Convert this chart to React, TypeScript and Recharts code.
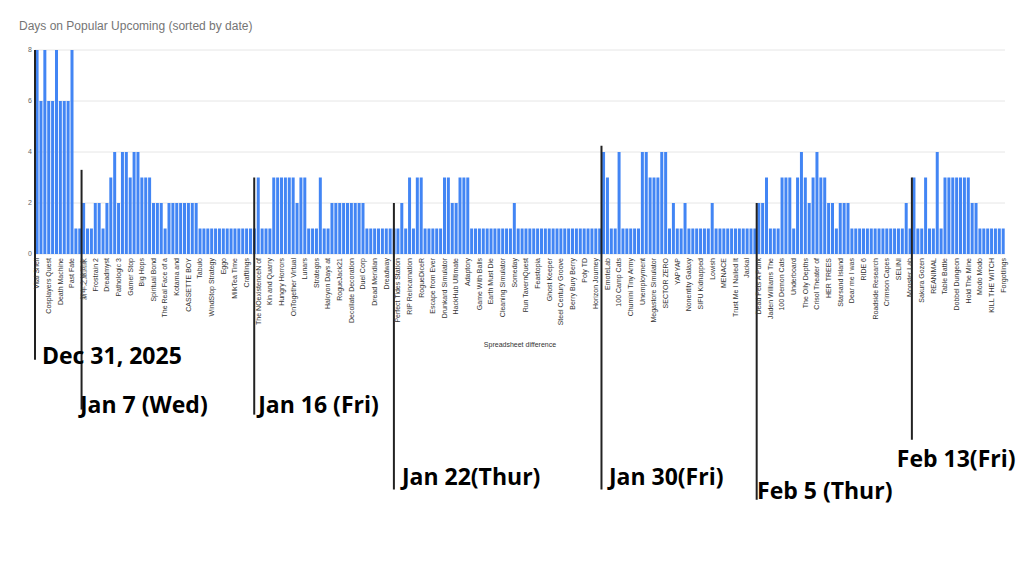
import React from 'react';
import {
  BarChart,
  Bar,
  XAxis,
  YAxis,
  CartesianGrid,
  ReferenceLine,
  ReferenceDot,
  Label,
} from 'recharts';

const titleText = 'Days on Popular Upcoming (sorted by date)';
const axisTitle = 'Spreadsheet difference';

// Visible category labels (one every third bar, as in the reference)
const labels = [
  'Vital Shell', 'Cosplayers Quest', 'Death Machine', 'Past Fate', '新年之旅回家',
  'Frostrain 2', 'Dreadmyst', 'Pathologic 3', 'Gamer Stop', 'Big Hops',
  'Spiritual Bond', 'The Real Face of a', 'Kotama and', 'CASSETTE BOY', 'Tabulo',
  'WindStop Strategy', 'Eggo', 'MilkTea Time', 'Craftlings', 'The NOexistenceN of',
  'Kin and Quarry', 'Hungry Horrors', 'OnTogether Virtual', 'Lunars', 'Strategos',
  'Halcyon Days at', 'RogueJack21', 'Decollate Decoration', 'Duel Corp', 'Dread Meridian',
  'Dreadway', 'Perfect Tides Station', 'RIP Reincarnation', 'RogueDiceR', 'Escape from Ever',
  'Drunkard Simulator', 'HackHub  Ultimate', 'Adaptory', 'Game With Balls', 'Earth Must Die',
  'Cleaning Simulator', 'Someday', 'Run TavernQuest', 'Feastopia', 'Ghost Keeper',
  'Steel Century Groove', 'Berry Bury Berry', 'Poly TD', 'Horizon Journey', 'EmoteLab',
  '100 Camp Cats', 'Chumini Tiny Army', 'Unemployment', 'Megastore Simulator', 'SECTOR ZERO',
  'YAPYAP', 'Nonentity Galaxy', 'SIFU Kidnapped', 'Lowish', 'MENACE',
  'Trust Me I Nailed It', 'Jackal', 'Dead Pets A Punk', 'Jaden Williams The', '100 Demon Cats',
  'Underboard', 'The Oily Depths', 'Crisol Theater of', 'HER TREES', 'Starsand Island',
  'Dear me I was', 'RIDE 6', 'Roadside Research', 'Crimson Capes', 'SELINI',
  'Monster Lab', 'Sakura Gozen', 'REANIMAL', 'Table Battle', 'Dobbel Dungeon',
  'Hold The Mine', 'Modo Modo', 'KILL THE WITCH', 'Forgotlings',
];

// Days on Popular Upcoming, one value per game (250 games)
const days = [
  8, 6, 8, 6, 6, 8, 6, 6, 6, 8,
  1, 1, 2, 1, 1, 2, 2, 1, 2, 3,
  4, 2, 4, 4, 3, 4, 4, 3, 3, 3,
  2, 2, 2, 1, 2, 2, 2, 2, 2, 2,
  2, 2, 1, 1, 1, 1, 1, 1, 1, 1,
  1, 1, 1, 1, 1, 1, 1, 3, 1, 1,
  1, 3, 3, 3, 3, 3, 3, 2, 3, 3,
  1, 1, 1, 3, 1, 1, 2, 2, 2, 2,
  2, 2, 2, 2, 2, 1, 1, 1, 1, 1,
  1, 1, 1, 1, 2, 1, 3, 1, 3, 3,
  1, 1, 1, 1, 1, 3, 3, 2, 2, 3,
  3, 3, 1, 1, 1, 1, 1, 1, 1, 1,
  1, 1, 1, 2, 1, 1, 1, 1, 1, 1,
  1, 1, 1, 1, 1, 1, 1, 1, 1, 1,
  1, 1, 1, 1, 1, 1, 4, 3, 1, 1,
  4, 1, 1, 1, 1, 1, 4, 4, 3, 3,
  3, 4, 4, 1, 2, 1, 1, 2, 1, 1,
  1, 1, 1, 1, 2, 1, 1, 1, 1, 1,
  1, 1, 1, 1, 1, 1, 2, 2, 3, 1,
  1, 1, 3, 3, 3, 1, 3, 4, 3, 2,
  3, 4, 3, 3, 2, 2, 1, 2, 2, 2,
  1, 1, 1, 1, 1, 1, 1, 1, 1, 1,
  1, 1, 1, 1, 2, 1, 3, 1, 1, 3,
  1, 1, 4, 1, 3, 3, 3, 3, 3, 3,
  3, 2, 2, 1, 1, 1, 1, 1, 1, 1,
];

const yTicks = [0, 2, 4, 6, 8];

// Hand-drawn date separators (category index where each date starts)
const annotations = [
  { text: 'Dec 31, 2025', at: 0, pos: 'start', top: 8, bottom: -4.15, textY: -3.95, dx: 5 },
  { text: 'Jan 7 (Wed)', at: 12, pos: 'start', top: 3.3, bottom: -6.1, textY: -5.87, dx: -3.5 },
  { text: 'Jan 16 (Fri)', at: 56, pos: 'middle', top: 3, bottom: -6.3, textY: -5.87, dx: 4 },
  { text: 'Jan 22(Thur)', at: 92, pos: 'middle', top: 2, bottom: -9.24, textY: -8.69, dx: 8 },
  { text: 'Jan 30(Fri)', at: 146, pos: 'start', top: 4.25, bottom: -9.24, textY: -8.69, dx: 5.5 },
  { text: 'Feb 5 (Thur)', at: 186, pos: 'start', top: 2, bottom: -9.64, textY: -9.24, dx: -1.6 },
  { text: 'Feb 13(Fri)', at: 226, pos: 'start', top: 3, bottom: -7.28, textY: -7.99, dx: -17 },
];

const rows = days.map((v, i) => ({
  idx: i,
  name: i % 3 === 0 ? labels[i / 3] : '',
  days: v,
}));

const XTick = (props: any) => {
  const { x, y, payload } = props;
  const row = rows[payload.value];
  const name = row ? row.name : '';
  return (
    <text
      x={x}
      y={y}
      transform={`rotate(-90 ${x} ${y})`}
      textAnchor="end"
      dominantBaseline="central"
      fontSize={7}
      fill="#333"
      fontFamily="Arial, 'Liberation Sans', sans-serif"
    >
      {name}
    </text>
  );
};

export default function App() {
  return (
    <div style={{ position: 'relative', width: 1016, height: 560, background: '#fff' }}>
      <div
        style={{
          position: 'absolute',
          left: 11,
          top: 11,
          fontFamily: "Arial, 'Liberation Sans', sans-serif",
          fontSize: 12,
          lineHeight: '14px',
          color: '#757575',
          whiteSpace: 'nowrap',
        }}
      >
        {titleText}
      </div>
      <BarChart
        width={1016}
        height={560}
        data={rows}
        margin={{ top: 42, right: 19, left: 0, bottom: 214 }}
        barCategoryGap="15%"
      >
        <CartesianGrid vertical={false} stroke="#e6e6e6" />
        <XAxis
          dataKey="idx"
          type="category"
          interval={2}
          height={100}
          tickLine={false}
          axisLine={false}
          tickSize={0}
          tickMargin={4}
          tick={(p: any) => <XTick {...p} />}
        >
          <Label
            value={axisTitle}
            position="insideBottom"
            offset={7}
            fontSize={7}
            fill="#333"
            fontFamily="Arial, 'Liberation Sans', sans-serif"
          />
        </XAxis>
        <YAxis
          domain={[0, 8]}
          ticks={yTicks}
          interval={0}
          width={27}
          tickLine={false}
          axisLine={false}
          tickSize={0}
          tickMargin={3}
          tick={{ fontSize: 7, fill: '#666', fontFamily: "Arial, 'Liberation Sans', sans-serif" }}
        />
        <Bar dataKey="days" fill="#4285f4" isAnimationActive={false} />
        {annotations.map((a) => (
          <ReferenceLine
            key={'l' + a.text}
            segment={[
              { x: a.at, y: a.top },
              { x: a.at, y: a.bottom },
            ]}
            position={a.pos as any}
            ifOverflow="visible"
            stroke="#222"
            strokeWidth={2}
          />
        ))}
        {annotations.map((a) => (
          <ReferenceDot
            key={'t' + a.text}
            x={a.at}
            y={a.textY}
            r={1}
            ifOverflow="visible"
            shape={(p: any) => (
              <text
                x={p.cx + a.dx}
                y={p.cy}
                dominantBaseline="central"
                textAnchor="start"
                fontFamily="'Open Sans', Arial, sans-serif"
                fontWeight={700}
                fontSize={23}
                fill="#000"
              >
                {a.text}
              </text>
            )}
          />
        ))}
      </BarChart>
    </div>
  );
}
